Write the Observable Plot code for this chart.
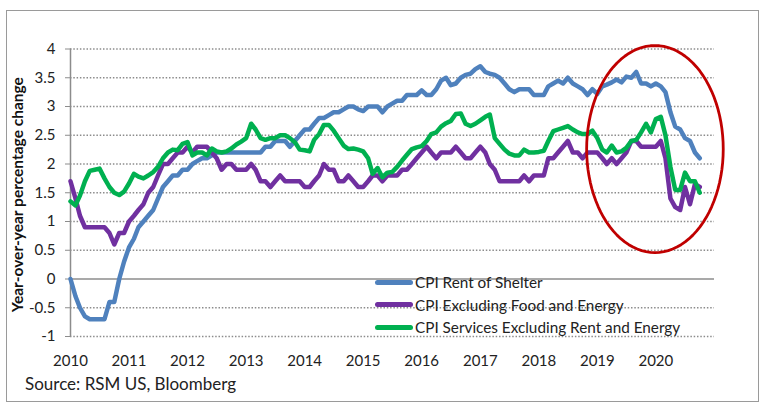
<!DOCTYPE html>
<html><head><meta charset="utf-8">
<script src="https://cdn.jsdelivr.net/npm/d3@7"></script>
<script src="https://cdn.jsdelivr.net/npm/@observablehq/plot@0.6"></script>
<style>
body{margin:0;background:#fff;}
#wrap{position:relative;width:768px;height:409px;font-family:Lato,"Open Sans",sans-serif;overflow:hidden;background:#fff;}
#frame{position:absolute;left:6px;top:10px;width:751px;height:390px;border:1.5px solid #9a9a9a;pointer-events:none;}
#chart{position:absolute;left:0;top:0;}
#legend{position:absolute;left:375px;top:271px;font-size:15.3px;color:#222;}
#legend .row{height:22.5px;display:flex;align-items:center;white-space:nowrap;}
#legend .sw{display:inline-block;width:38px;height:5px;border-radius:2.5px;margin-right:2px;}
#caption{position:absolute;left:25px;top:373px;font-size:17px;color:#222;white-space:nowrap;}
</style></head>
<body><div id="wrap"><div id="chart"></div><div id="legend"></div><div id="caption"></div><div id="frame"></div></div>
<script>
// Monthly data, Jan 2010 .. Oct 2020 (YoY % change)
const startYear = 2010;
const seriesNames = ["CPI Rent of Shelter", "CPI Excluding Food and Energy", "CPI Services Excluding Rent and Energy"];
const seriesColors = ["#4F81BD", "#7030A0", "#00B050"];
const rentOfShelter = [
  0.0,-0.3,-0.5,-0.65,-0.7,-0.7,-0.7,-0.7,-0.4,-0.4,0.0,0.3,
  0.55,0.7,0.9,1.0,1.1,1.2,1.4,1.6,1.7,1.8,1.8,1.9,
  1.9,2.0,2.05,2.1,2.1,2.15,2.2,2.2,2.2,2.2,2.2,2.2,
  2.2,2.2,2.2,2.2,2.3,2.3,2.4,2.4,2.4,2.3,2.4,2.5,
  2.6,2.6,2.7,2.8,2.8,2.85,2.9,2.9,2.95,3.0,3.0,2.95,
  2.92,3.0,3.0,3.0,2.9,3.0,3.05,3.1,3.1,3.2,3.2,3.2,
  3.28,3.2,3.2,3.3,3.45,3.5,3.37,3.4,3.5,3.55,3.57,3.65,
  3.7,3.6,3.57,3.55,3.5,3.4,3.3,3.25,3.3,3.3,3.3,3.2,
  3.2,3.2,3.35,3.4,3.45,3.4,3.5,3.4,3.35,3.3,3.2,3.3,
  3.22,3.35,3.38,3.42,3.47,3.42,3.52,3.5,3.6,3.4,3.4,3.35,
  3.4,3.35,3.25,2.9,2.65,2.6,2.45,2.4,2.2,2.1
];
const coreCPI = [
  1.7,1.4,1.1,0.9,0.9,0.9,0.9,0.9,0.8,0.6,0.8,0.8,
  1.0,1.1,1.2,1.3,1.5,1.6,1.8,2.0,2.0,2.1,2.2,2.2,
  2.3,2.2,2.3,2.3,2.3,2.2,2.1,1.9,2.0,2.0,1.9,1.9,
  1.9,2.0,1.9,1.7,1.7,1.6,1.7,1.8,1.7,1.7,1.7,1.7,
  1.6,1.6,1.7,1.8,2.0,1.9,1.9,1.7,1.7,1.8,1.7,1.6,
  1.6,1.7,1.8,1.8,1.7,1.8,1.8,1.8,1.9,1.9,2.0,2.1,
  2.2,2.3,2.2,2.1,2.2,2.2,2.2,2.3,2.2,2.1,2.1,2.2,
  2.3,2.2,2.0,1.9,1.7,1.7,1.7,1.7,1.7,1.8,1.7,1.8,
  1.8,1.8,2.1,2.1,2.2,2.3,2.4,2.2,2.2,2.1,2.2,2.2,
  2.2,2.1,2.0,2.1,2.0,2.1,2.2,2.4,2.4,2.3,2.3,2.3,
  2.3,2.4,2.1,1.4,1.25,1.2,1.6,1.3,1.65,1.6
];
const servicesExRent = [
  1.35,1.28,1.45,1.7,1.88,1.9,1.92,1.75,1.6,1.5,1.46,1.52,
  1.66,1.83,1.78,1.75,1.8,1.86,1.95,2.1,2.2,2.25,2.24,2.35,
  2.38,2.15,2.2,2.2,2.15,2.27,2.22,2.2,2.22,2.27,2.34,2.39,
  2.45,2.7,2.6,2.45,2.42,2.45,2.45,2.5,2.5,2.45,2.38,2.25,
  2.24,2.22,2.42,2.52,2.68,2.68,2.58,2.45,2.32,2.26,2.27,2.25,
  2.22,2.1,1.83,1.93,1.77,1.85,1.86,1.95,2.06,2.16,2.26,2.29,
  2.31,2.4,2.52,2.55,2.65,2.71,2.75,2.87,2.88,2.7,2.66,2.7,
  2.76,2.82,2.86,2.45,2.35,2.25,2.18,2.15,2.15,2.25,2.2,2.2,
  2.21,2.23,2.4,2.57,2.6,2.63,2.66,2.6,2.55,2.52,2.52,2.58,
  2.45,2.25,2.2,2.32,2.2,2.22,2.28,2.4,2.42,2.55,2.7,2.55,
  2.78,2.82,2.5,1.95,1.55,1.55,1.85,1.7,1.7,1.5
];
const yTicks = [-1,-0.5,0,0.5,1,1.5,2,2.5,3,3.5,4];
const xTickYears = [2010,2011,2012,2013,2014,2015,2016,2017,2018,2019,2020];
const yLabel = "Year-over-year percentage change";
const caption = "Source: RSM US, Bloomberg";
// annotation ellipse (in data units: center month index, center value, half-width in months, half-height in value)
const ellipseSpec = {cMonth: 119.8, cValue: 2.26, rMonths: 14, rValue: 1.8};

const monthDate = m => new Date(Date.UTC(startYear, 0, 1) + m * (365.25/12) * 864e5);
const toRows = (vals, s) => vals.map((v, i) => ({date: new Date(Date.UTC(startYear, i, 1)), value: v, series: s}));
const rows = [
  ...toRows(rentOfShelter, seriesNames[0]),
  ...toRows(coreCPI, seriesNames[1]),
  ...toRows(servicesExRent, seriesNames[2])
];
const ell = d3.range(0, 96).map(k => {
  const t = k / 96 * 2 * Math.PI;
  return {date: monthDate(ellipseSpec.cMonth + ellipseSpec.rMonths * Math.cos(t)), value: ellipseSpec.cValue + ellipseSpec.rValue * Math.sin(t)};
});
const xDates = xTickYears.map(y => new Date(Date.UTC(y, 0, 1)));

const chart = Plot.plot({
  width: 768, height: 375,
  marginLeft: 70, marginRight: 54, marginTop: 48.5, marginBottom: 39,
  style: {fontFamily: "Lato, sans-serif", fontSize: "15px", background: "transparent", overflow: "visible"},
  x: {type: "utc", domain: [new Date(Date.UTC(2010,0,1)), new Date(Date.UTC(2021,0,1))]},
  y: {domain: [-1, 4]},
  color: {domain: seriesNames, range: seriesColors},
  marks: [
    Plot.gridY(yTicks.filter(d => d !== 0), {stroke: "#8c8c8c", strokeOpacity: 1, strokeDasharray: "1.5,1.8", strokeWidth: 1.3}),
    Plot.ruleY([0], {stroke: "#8c8c8c", strokeWidth: 1.5}),
    Plot.ruleX([xDates[0]], {y1: -1, y2: 4, stroke: "#8c8c8c", strokeWidth: 1.5}),
    Plot.axisY(yTicks, {tickSize: 5, tickPadding: 10, tickFormat: d => String(d), label: null, stroke: "#8c8c8c", fill: "#222", fontSize: 15}),
    Plot.axisX(xDates, {tickSize: 0, tickPadding: 19, tickFormat: d3.utcFormat("%Y"), label: null, fill: "#222", fontSize: 15}),
    Plot.text([yLabel], {frameAnchor: "left", textAnchor: "middle", rotate: -90, dx: -52, dy: 2, fontWeight: "bold", fontSize: 15.5, fill: "#111"}),
    Plot.line(rows, {x: "date", y: "value", z: "series", stroke: "series", strokeWidth: 4.5, strokeLinejoin: "round", strokeLinecap: "round"}),
    Plot.line(ell, {x: "date", y: "value", curve: "linear-closed", stroke: "#C00000", strokeWidth: 2.8})
  ]
});
document.getElementById("chart").appendChild(chart);

const leg = document.getElementById("legend");
seriesNames.forEach((n, i) => {
  const r = document.createElement("div"); r.className = "row";
  const sw = document.createElement("span"); sw.className = "sw"; sw.style.background = seriesColors[i];
  const t = document.createElement("span"); t.textContent = n;
  r.appendChild(sw); r.appendChild(t); leg.appendChild(r);
});
document.getElementById("caption").textContent = caption;
</script></body></html>
